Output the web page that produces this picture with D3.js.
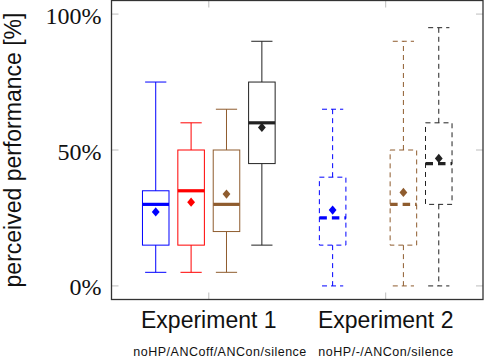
<!DOCTYPE html>
<html>
<head>
<meta charset="utf-8">
<script src="https://cdn.jsdelivr.net/npm/d3@7"></script>
<style>
  body { margin: 0; background: #fff; }
  svg { display: block; }
</style>
</head>
<body>
<svg id="chart" width="484" height="361"></svg>
<script>
// Box plot data (values in %)
var groups = ["Experiment 1", "Experiment 2"];
var subLabels = ["noHP/ANCoff/ANCon/silence", "noHP/-/ANCon/silence"];
var conditions = ["noHP", "ANCoff", "ANCon", "silence"];

var boxGroup = [0, 0, 0, 0, 1, 1, 1];
var boxCondition = ["noHP", "ANCoff", "ANCon", "silence", "noHP", "ANCon", "silence"];
var whiskerLow = [5, 5, 5, 15, 0, 0, 0];
var quartile1 = [15, 15, 20, 45, 15, 15, 30];
var medians = [30, 35, 30, 60, 25, 30, 45];
var quartile3 = [35, 50, 50, 75, 40, 50, 60];
var whiskerHigh = [75, 60, 65, 90, 65, 90, 95];
var means = [27.2, 30.8, 33.8, 58.3, 27.9, 34.4, 46.9];

var yTicks = [0, 50, 100];

var colors = { noHP: "#0000ff", ANCoff: "#ff0000", ANCon: "#8f5c2e", silence: "#222222" };

var plot = { left: 111.5, right: 483, top: 0.5, bottom: 299.5 };

var svg = d3.select("#chart");

// one unit per box slot, 5 slots per experiment
var x = d3.scaleLinear()
    .domain([-0.25, 10.25])
    .range([plot.left, plot.right]);

var y = d3.scaleLinear()
    .domain([-5, 105])
    .range([plot.bottom, plot.top]);

var boxWidth = 0.75;
var capWidth = 0.6;

function slot(i) {
    return boxGroup[i] * 5 + conditions.indexOf(boxCondition[i]) + 1;
}
function groupCenter(g) {
    return g * 5 + 2.5;
}

// Gray ticks inside the frame
var ticks = svg.append("g")
    .attr("stroke", "#bdbdbd")
    .attr("stroke-width", 1);

yTicks.forEach(function(t) {
    ticks.append("line")
        .attr("x1", plot.left).attr("x2", plot.left + 7)
        .attr("y1", y(t)).attr("y2", y(t));
    ticks.append("line")
        .attr("x1", plot.right - 7).attr("x2", plot.right)
        .attr("y1", y(t)).attr("y2", y(t));
});
groups.forEach(function(g, gi) {
    var cx = x(groupCenter(gi));
    ticks.append("line")
        .attr("x1", cx).attr("x2", cx)
        .attr("y1", plot.bottom).attr("y2", plot.bottom - 7);
    ticks.append("line")
        .attr("x1", cx).attr("x2", cx)
        .attr("y1", plot.top).attr("y2", plot.top + 7);
});

// Boxes
var boxes = svg.append("g");

boxCondition.forEach(function(c, i) {
    var g = boxes.append("g")
        .attr("stroke", colors[c])
        .attr("fill", "none");
    var cx = x(slot(i));
    var dashed = boxGroup[i] === 1;
    var dash = dashed ? "5,4" : null;
    var half = (x(boxWidth) - x(0)) / 2;
    var capHalf = (x(capWidth) - x(0)) / 2;

    // whiskers
    g.append("line")
        .attr("x1", cx).attr("x2", cx)
        .attr("y1", y(quartile3[i])).attr("y2", y(whiskerHigh[i]))
        .attr("stroke-dasharray", dash);
    g.append("line")
        .attr("x1", cx).attr("x2", cx)
        .attr("y1", y(quartile1[i])).attr("y2", y(whiskerLow[i]))
        .attr("stroke-dasharray", dash);
    g.append("line")
        .attr("x1", cx - capHalf).attr("x2", cx + capHalf)
        .attr("y1", y(whiskerHigh[i])).attr("y2", y(whiskerHigh[i]))
        .attr("stroke-dasharray", dash);
    g.append("line")
        .attr("x1", cx - capHalf).attr("x2", cx + capHalf)
        .attr("y1", y(whiskerLow[i])).attr("y2", y(whiskerLow[i]))
        .attr("stroke-dasharray", dash);

    // box
    g.append("rect")
        .attr("x", cx - half)
        .attr("y", y(quartile3[i]))
        .attr("width", 2 * half)
        .attr("height", y(quartile1[i]) - y(quartile3[i]))
        .attr("stroke-dasharray", dash);

    // median
    g.append("line")
        .attr("x1", cx - half).attr("x2", cx + half)
        .attr("y1", y(medians[i])).attr("y2", y(medians[i]))
        .attr("stroke-width", 3.2)
        .attr("stroke-dasharray", dashed ? "7.5,5" : null);

    // mean diamond
    var my = y(means[i]);
    g.append("path")
        .attr("d", "M0,-4.6L3.9,0L0,4.6L-3.9,0Z")
        .attr("transform", "translate(" + cx + "," + my + ")")
        .attr("stroke", "none")
        .attr("fill", colors[c]);
});

// Frame
svg.append("rect")
    .attr("x", plot.left)
    .attr("y", plot.top)
    .attr("width", plot.right - plot.left)
    .attr("height", plot.bottom - plot.top)
    .attr("fill", "none")
    .attr("stroke", "#333")
    .attr("stroke-width", 1.3);

// Y tick labels
svg.append("g")
    .selectAll("text")
    .data(yTicks)
    .join("text")
    .attr("x", plot.left - 10)
    .attr("y", function(d) { return y(d) + 9.5; })
    .attr("text-anchor", "end")
    .attr("font-family", "'Liberation Serif', serif")
    .attr("font-size", 24)
    .attr("fill", "#111")
    .text(function(d) { return d + "%"; });

// Y axis title
svg.append("text")
    .attr("transform", "translate(21,150) rotate(-90)")
    .attr("text-anchor", "middle")
    .attr("font-family", "'Liberation Sans', sans-serif")
    .attr("font-size", 23)
    .attr("fill", "#111")
    .text("perceived performance [%]");

// Group labels
svg.append("g")
    .selectAll("text")
    .data(groups)
    .join("text")
    .attr("x", function(d, i) { return x(groupCenter(i)); })
    .attr("y", 328)
    .attr("text-anchor", "middle")
    .attr("font-family", "'Liberation Sans', sans-serif")
    .attr("font-size", 23)
    .attr("fill", "#111")
    .text(function(d) { return d; });

// Condition orders under each group
var subStart = [133.3, 318.3];
var subWidth = [173, 135];
svg.append("g")
    .selectAll("text")
    .data(subLabels)
    .join("text")
    .attr("x", function(d, i) { return subStart[i]; })
    .attr("y", 356)
    .attr("font-family", "'Liberation Sans', sans-serif")
    .attr("font-size", 12.5)
    .attr("fill", "#111")
    .attr("textLength", function(d, i) { return subWidth[i]; })
    .text(function(d) { return d; });
</script>
</body>
</html>
